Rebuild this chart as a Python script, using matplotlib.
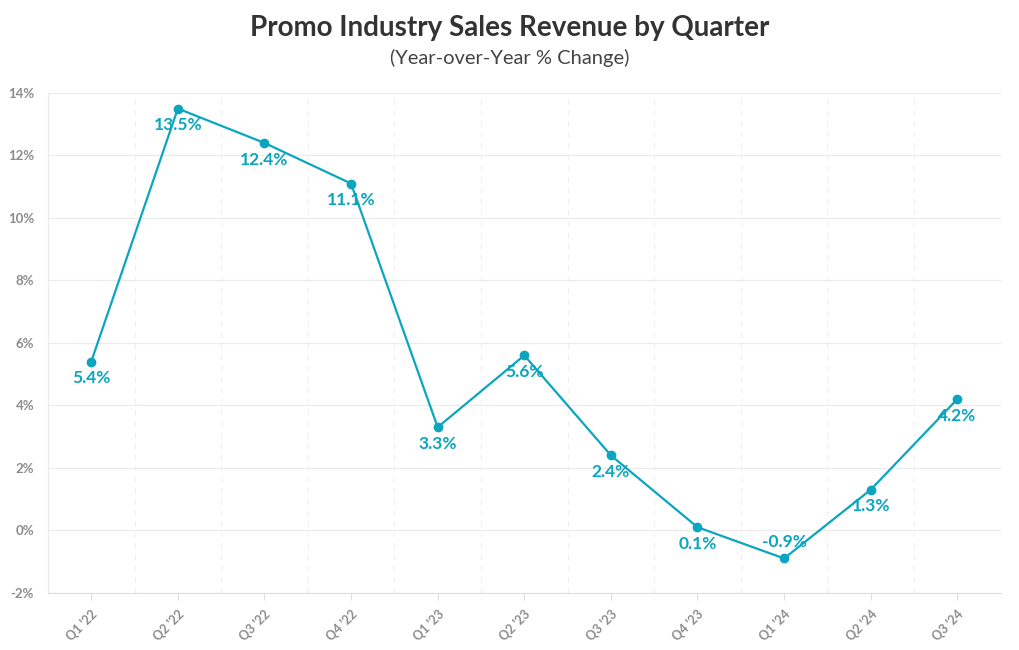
import matplotlib.pyplot as plt
from matplotlib.ticker import FuncFormatter, FixedLocator
import numpy as np

quarters = ["Q1 '22", "Q2 '22", "Q3 '22", "Q4 '22", "Q1 '23", "Q2 '23",
            "Q3 '23", "Q4 '23", "Q1 '24", "Q2 '24", "Q3 '24"]
yoy_change = [5.4, 13.5, 12.4, 11.1, 3.3, 5.6, 2.4, 0.1, -0.9, 1.3, 4.2]
y_ticks = [-2, 0, 2, 4, 6, 8, 10, 12, 14]

plt.rcParams['font.family'] = ['Lato', 'DejaVu Sans']
teal = '#0aa6bf'
grid_col = '#ebebeb'

fig = plt.figure(figsize=(10.2, 6.5), dpi=100)
ax = fig.add_axes([0.047, 0.088, 0.934, 0.769])

x = np.arange(len(quarters))
ax.plot(x, yoy_change, color=teal, lw=1.6, marker='o', ms=6, zorder=3)
for xi, v in zip(x, yoy_change):
    # negative values get their label above the point
    dy = 12 if v < 0 else -12
    ax.annotate(f"{v}%", (xi, v), xytext=(0, dy), textcoords='offset points',
                ha='center', va='center', color=teal, fontsize=12.5, fontweight='bold', zorder=4)

ax.set_xlim(-0.5, len(quarters) - 0.5)
ax.set_ylim(-2, 14)
ax.set_yticks(y_ticks)
ax.yaxis.set_major_formatter(FuncFormatter(lambda v, _: f"{v:.0f}%"))
ax.set_xticks(x)
ax.set_xticklabels(quarters, rotation=45, ha='right', rotation_mode='anchor')

# horizontal grid solid, vertical dashed lines between quarters
ax.grid(axis='y', color=grid_col, lw=0.8)
ax.xaxis.set_minor_locator(FixedLocator(x[:-1] + 0.5))
ax.grid(axis='x', which='minor', color='#f0f0f0', lw=0.8, ls=(0, (5, 5)))
ax.set_axisbelow(True)

for s in ['top', 'right']:
    ax.spines[s].set_visible(False)
ax.spines['left'].set_color(grid_col)
ax.spines['bottom'].set_color('#dddddd')
ax.tick_params(axis='y', length=0, pad=10, labelsize=9.5, labelcolor='#8c8c8c')
ax.tick_params(axis='x', which='major', length=5, color='#dddddd', pad=6, labelsize=9, labelcolor='#8c8c8c')
ax.tick_params(axis='x', which='minor', length=0)
for lbl in ax.get_xticklabels() + ax.get_yticklabels():
    lbl.set_fontweight('bold')

fig.text(0.5, 0.957, "Promo Industry Sales Revenue by Quarter", ha='center', va='center',
         fontsize=20, fontweight='bold', color='#333333')
fig.text(0.5, 0.911, "(Year-over-Year % Change)", ha='center', va='center',
         fontsize=14.5, color='#444444')

fig.savefig('out.png', dpi=100, facecolor='white')
